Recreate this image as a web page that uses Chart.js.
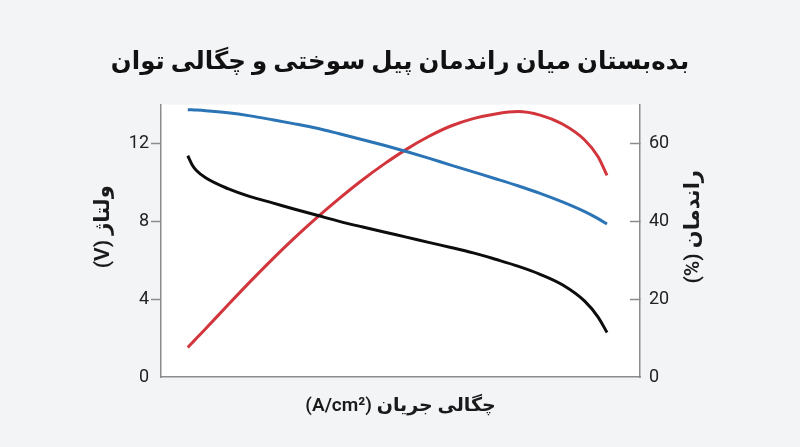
<!DOCTYPE html>
<html dir="rtl">
<head>
<meta charset="utf-8">
<script src="https://cdn.jsdelivr.net/npm/chart.js@4"></script>
<style>
  html, body { margin: 0; padding: 0; background: #f3f4f6; }
  #wrap { width: 800px; height: 447px; }
</style>
</head>
<body>
<div id="wrap"><canvas id="chart" width="800" height="447"></canvas></div>
<script>
// current density (A/cm2), no tick labels on the axis
var current = [0.06, 0.07, 0.08, 0.1, 0.15, 0.2, 0.25, 0.3, 0.35, 0.4, 0.45, 0.5,
               0.55, 0.6, 0.65, 0.7, 0.75, 0.8, 0.85, 0.9, 0.95, 0.98, 1.0];
// cell voltage (V), left axis
var voltage = [11.37, 10.9, 10.6, 10.24, 9.68, 9.27, 8.95, 8.62, 8.31, 8.0, 7.72, 7.45,
               7.19, 6.92, 6.66, 6.38, 6.05, 5.7, 5.28, 4.74, 3.9, 3.08, 2.29];
// efficiency (%), right axis
var efficiency = [68.7, 68.65, 68.6, 68.45, 67.9, 67.1, 66.1, 65.05, 63.9, 62.5, 61.05, 59.55,
                  57.95, 56.25, 54.45, 52.7, 50.95, 49.15, 47.2, 45.0, 42.5, 40.7, 39.3];
// power density, drawn on the right axis scale
var power = [7.6, 8.8, 10.0, 12.4, 18.5, 24.5, 30.3, 35.8, 41.0, 45.9, 50.5, 54.7,
             58.5, 61.8, 64.5, 66.4, 67.6, 68.2, 67.3, 65.0, 60.9, 56.6, 51.8];

var titleText = 'بده‌بستان میان راندمان پیل سوختی و چگالی توان';
var xTitle = 'چگالی جریان (A/cm²)';
var yTitle = 'ولتاژ (V)';
var y2Title = 'راندمان (%)';

var fontFamily = 'Roboto, "DejaVu Sans", sans-serif';
var axisGrey = '#8c8c8c';

function pts(ys) {
    return ys.map(function (v, i) { return { x: current[i], y: v }; });
}

var plotBg = {
    id: 'plotBg',
    beforeDraw: function (chart) {
        var c = chart.ctx, a = chart.chartArea;
        c.save();
        c.fillStyle = '#f3f4f6';
        c.fillRect(0, 0, chart.width, chart.height);
        c.fillStyle = '#ffffff';
        c.fillRect(a.left, a.top, a.right - a.left, a.bottom - a.top);
        c.restore();
    }
};

// both vertical axis titles read bottom-to-top, sitting a bit above centre
function sideTitle(c, text, x, y) {
    c.save();
    c.translate(x, y);
    c.rotate(-Math.PI / 2);
    c.direction = 'rtl';
    c.font = '600 21px ' + fontFamily;
    c.fillStyle = '#1a1a1a';
    c.textAlign = 'center';
    c.textBaseline = 'middle';
    c.fillText(text, 0, 0);
    c.restore();
}

var axisTitles = {
    id: 'axisTitles',
    afterDraw: function (chart) {
        var l = chart.scales.y, r = chart.scales.y2;
        var mid = (l.top + l.bottom) / 2 - 14;
        sideTitle(chart.ctx, yTitle, l.left + 104, mid);
        sideTitle(chart.ctx, y2Title, r.right - 106, mid);
    }
};

function tickCol(ctx) {
    return ctx.tick && ctx.tick.value === 0 ? 'rgba(0,0,0,0)' : axisGrey;
}

new Chart('chart', {
    type: 'line',
    data: {
        datasets: [
            { label: 'ولتاژ', data: pts(voltage), yAxisID: 'y',
              borderColor: '#0d0d0d', borderWidth: 3 },
            { label: 'راندمان', data: pts(efficiency), yAxisID: 'y2',
              borderColor: '#2b74b5', borderWidth: 3 },
            { label: 'چگالی توان', data: pts(power), yAxisID: 'y2',
              borderColor: '#d2363c', borderWidth: 3 }
        ]
    },
    options: {
        responsive: false,
        animation: false,
        elements: { point: { radius: 0 }, line: { cubicInterpolationMode: 'monotone' } },
        layout: { padding: 0 },
        plugins: {
            legend: { display: false },
            tooltip: { enabled: false },
            title: {
                display: true,
                text: titleText,
                color: '#111111',
                font: { family: fontFamily, size: 24.5, weight: 'bold' },
                padding: { top: 48, bottom: 27.2 }
            }
        },
        scales: {
            x: {
                type: 'linear', min: 0, max: 1.074,
                ticks: { display: false },
                grid: { display: false },
                border: { display: true, color: axisGrey, width: 1.5 },
                title: {
                    display: true, text: xTitle, color: '#1a1a1a',
                    font: { family: fontFamily, size: 19, weight: '600' },
                    padding: { top: 0, bottom: 29 }
                },
                afterFit: function (s) { s.height = 70; }
            },
            y: {
                position: 'left', min: 0, max: 14,
                ticks: { stepSize: 4, includeBounds: false, padding: 2, color: '#222222',
                         font: { family: fontFamily, size: 18 } },
                grid: { drawOnChartArea: false, tickLength: 10, color: axisGrey,
                        tickColor: tickCol, tickWidth: 1.5 },
                border: { display: true, color: axisGrey, width: 1.5 },
                afterFit: function (s) { s.width = 161; }
            },
            y2: {
                position: 'right', min: 0, max: 70,
                ticks: { stepSize: 20, includeBounds: false, padding: 19, color: '#222222',
                         font: { family: fontFamily, size: 18 } },
                grid: { drawOnChartArea: false, tickLength: -10, color: axisGrey,
                        tickColor: tickCol, tickWidth: 1.5 },
                border: { display: true, color: axisGrey, width: 1.5 },
                afterFit: function (s) { s.width = 160; }
            }
        }
    },
    plugins: [plotBg, axisTitles]
});
</script>
</body>
</html>
